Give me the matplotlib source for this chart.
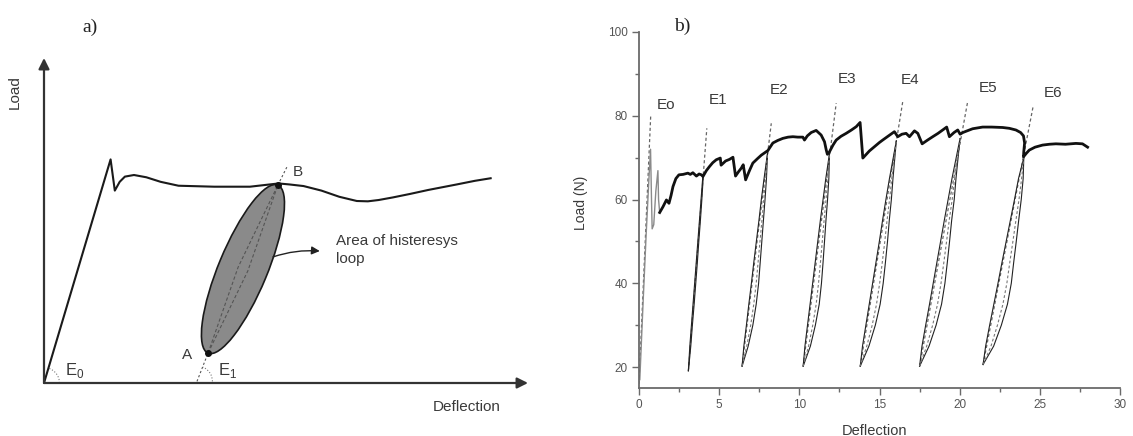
import numpy as np
import matplotlib
matplotlib.use('Agg')
import matplotlib.pyplot as plt
from matplotlib.patches import Ellipse, Arc

plt.rcParams['font.family'] = ['Liberation Sans', 'DejaVu Sans']
plt.rcParams['mathtext.fontset'] = 'custom'
plt.rcParams['mathtext.rm'] = 'Liberation Sans'

# ---------------- panel a (schematic) ----------------
a_curve_x = [0.0, 2.05, 2.18, 2.33, 2.49, 2.77, 3.15, 3.59, 4.14, 5.24, 6.34, 6.78, 7.22,
             7.55, 7.99, 8.54, 9.09, 9.63, 9.97, 10.30, 10.74, 11.28, 11.83, 12.71, 13.26, 13.75]
a_curve_y = [0.0, 6.88, 5.92, 6.19, 6.35, 6.40, 6.33, 6.19, 6.07, 6.04, 6.04, 6.09, 6.14,
             6.11, 6.06, 5.92, 5.73, 5.60, 5.59, 5.63, 5.71, 5.82, 5.94, 6.11, 6.22, 6.30]
point_a = (5.05, 0.92)
point_b = (7.20, 6.09)
loop_minor = 1.5
e1_foot = (4.71, 0.05)
e1_tip = (7.48, 6.65)

# ---------------- panel b (measured) ----------------
init_x = [0.05, 0.25, 0.45, 0.62, 0.72, 0.78, 0.82, 0.92, 1.05, 1.18, 1.22, 1.29]
init_y = [17.0, 35.0, 52.0, 65.0, 72.0, 60.0, 53.0, 54.0, 62.0, 66.9, 60.0, 56.9]

env_x = [1.29, 1.50, 1.71, 1.87, 2.00, 2.12, 2.30, 2.49, 2.75, 3.05, 3.20, 3.36, 3.58, 3.75, 3.89,
         3.99, 4.20, 4.40, 4.60, 4.82, 5.07, 5.12, 5.40, 5.65, 5.86, 6.02, 6.20, 6.38, 6.50, 6.65,
         6.90, 7.10, 7.40, 7.63, 8.04, 8.35, 8.65, 8.97, 9.30, 9.60, 9.90, 10.22, 10.32, 10.50,
         10.74, 11.05, 11.36, 11.57, 11.68, 11.75, 11.88, 12.10, 12.30, 12.60, 12.92, 13.25, 13.55,
         13.79, 13.96, 14.37, 14.99, 15.20, 15.60, 15.93, 16.14, 16.40, 16.66, 16.87, 17.18, 17.39,
         17.66, 18.00, 18.32, 18.65, 18.94, 19.19, 19.36, 19.65, 19.88, 20.03, 20.20, 20.40, 20.81,
         21.43, 22.00, 22.68, 23.10, 23.51, 23.80, 23.98, 24.05, 24.00, 23.98, 24.15, 24.34, 24.70,
         25.17, 25.60, 26.00, 26.60, 27.25, 27.66, 27.98]
env_y = [56.9, 58.3, 59.9, 59.1, 61.0, 63.1, 65.0, 65.9, 66.0, 66.3, 66.0, 66.4, 65.6, 66.1, 65.9,
         65.5, 66.9, 67.9, 68.8, 69.5, 69.9, 68.2, 69.2, 69.6, 70.1, 65.6, 66.6, 67.5, 68.3, 64.7,
         67.0, 68.7, 69.8, 70.6, 71.7, 73.5, 74.1, 74.6, 74.9, 75.0, 74.9, 74.9, 74.2, 75.2,
         76.0, 76.5, 75.4, 73.8, 71.8, 70.8, 71.4, 73.0, 74.2, 75.1, 75.8, 76.6, 77.4,
         78.4, 69.9, 71.6, 73.6, 74.2, 75.3, 76.2, 75.0, 75.6, 75.8, 75.0, 76.4, 75.8,
         73.3, 74.2, 75.0, 75.8, 76.6, 77.3, 75.0, 76.0, 76.6, 75.6, 76.0, 76.3, 76.9,
         77.3, 77.3, 77.2, 77.0, 76.6, 76.0, 75.2, 73.5, 71.5, 70.2, 71.0, 71.8, 72.5,
         73.0, 73.2, 73.3, 73.2, 73.4, 73.3, 72.5]

# unload/reload loops E1..E6
loop_bottom_x = [3.08, 6.43, 10.24, 13.80, 17.50, 21.46]
loop_bottom_y = [19.1, 20.2, 20.2, 20.2, 20.2, 20.6]
loop_top_x = [4.00, 8.02, 11.88, 16.05, 20.02, 24.00]
loop_top_y = [65.5, 71.2, 71.0, 74.0, 74.5, 70.0]
loop_loads = [25, 30, 35, 40, 45, 50, 55, 60, 65]
reload_x = [[3.17, 3.27, 3.37, 3.47, 3.57, 3.67, 3.77, 3.87, 3.97],
            [6.54, 6.70, 6.85, 7.01, 7.16, 7.32, 7.48, 7.63, 7.80],
            [10.35, 10.51, 10.67, 10.83, 10.99, 11.15, 11.31, 11.48, 11.65],
            [13.94, 14.15, 14.36, 14.57, 14.78, 14.99, 15.19, 15.40, 15.62],
            [17.65, 17.88, 18.12, 18.35, 18.58, 18.81, 19.04, 19.28, 19.52],
            [21.62, 21.87, 22.13, 22.39, 22.64, 22.90, 23.16, 23.42, 23.67]]
unload_x = [[3.23, 3.33, 3.44, 3.54, 3.64, 3.73, 3.83, 3.92, 4.00],
            [6.81, 7.10, 7.31, 7.46, 7.56, 7.66, 7.76, 7.86, 7.95],
            [10.69, 11.00, 11.24, 11.38, 11.48, 11.57, 11.66, 11.76, 11.84],
            [14.34, 14.74, 15.04, 15.23, 15.37, 15.50, 15.61, 15.74, 15.84],
            [18.09, 18.53, 18.87, 19.08, 19.23, 19.37, 19.50, 19.66, 19.77],
            [22.12, 22.60, 22.98, 23.22, 23.37, 23.53, 23.68, 23.84, 23.96]]

# modulus lines Eo..E6
e_labels = ['Eo', 'E1', 'E2', 'E3', 'E4', 'E5', 'E6']
e_start_x = [0.00] + loop_bottom_x
e_start_y = [16.0] + loop_bottom_y
e_end_x = [0.73, 4.23, 8.25, 12.30, 16.45, 20.50, 24.58]
e_end_y = [80.0, 77.0, 78.2, 83.0, 83.4, 83.4, 82.2]
e_label_x = [1.66, 4.93, 8.75, 12.99, 16.88, 21.76, 25.84]
e_label_y = [82.6, 83.8, 86.2, 88.8, 88.5, 86.6, 85.4]

TXT = '#3a3a3a'


def draw_a(fig):
    W, H = 1133.0, 436.0
    ax = fig.add_axes([44 / W, (H - 383) / H, 484 / W, 325 / H])
    ax.set_xlim(0, 14.9)
    ax.set_ylim(0, 10)
    ax.axis('off')

    arrow = dict(arrowstyle='-|>', lw=1.6, color='#333333', mutation_scale=16,
                 shrinkA=0, shrinkB=0)
    ax.annotate('', xy=(0, 10), xytext=(0, 0), arrowprops=arrow, annotation_clip=False)
    ax.annotate('', xy=(14.9, 0), xytext=(0, 0), arrowprops=arrow, annotation_clip=False)

    ax.plot(a_curve_x, a_curve_y, color='#1a1a1a', lw=1.5, solid_joinstyle='round')

    # hysteresis loop
    pa = np.array(point_a)
    pb = np.array(point_b)
    d = pb - pa
    length = np.hypot(d[0], d[1])
    ang = np.degrees(np.arctan2(d[1], d[0]))
    ell = Ellipse((pa + pb) / 2, length, loop_minor, angle=ang,
                  facecolor='#8a8a8a', edgecolor='#1a1a1a', lw=1.2, zorder=3)
    ax.add_patch(ell)
    perp = np.array([-d[1], d[0]]) / length
    for off in (-0.16, 0.16):
        mid = (pa + pb) / 2 + perp * off
        ax.plot([pa[0], mid[0], pb[0]], [pa[1], mid[1], pb[1]], ls=(0, (3, 2)),
                color='#555555', lw=0.8, zorder=4)
    ax.plot([pa[0], pb[0]], [pa[1], pb[1]], 'o', color='#111111', ms=4, zorder=5)

    # tangent lines and angle arcs
    ax.plot([e1_foot[0], pa[0]], [e1_foot[1], pa[1]], ls=(0, (2, 2)), color='#555555', lw=0.8)
    ax.plot([pb[0], e1_tip[0]], [pb[1], e1_tip[1]], ls=(0, (2, 2)), color='#555555', lw=0.8)
    ang0 = np.degrees(np.arctan2(a_curve_y[1], a_curve_x[1]))
    ax.add_patch(Arc((0, 0), 0.95, 0.95, theta1=0, theta2=ang0, color='#777777',
                     lw=0.8, ls=':'))
    ax.add_patch(Arc(e1_foot, 0.95, 0.95, theta1=0, theta2=ang, color='#777777',
                     lw=0.8, ls=':'))

    ax.text(0.65, 0.40, r'E$_\mathrm{0}$', fontsize=12, color=TXT, ha='left', va='center')
    ax.text(5.35, 0.40, r'E$_\mathrm{1}$', fontsize=12, color=TXT, ha='left', va='center')
    ax.text(4.40, 0.86, 'A', fontsize=11, color=TXT, ha='center', va='center')
    ax.text(7.82, 6.49, 'B', fontsize=11, color=TXT, ha='center', va='center')

    ax.annotate('', xy=(8.49, 4.06), xytext=(7.05, 3.88),
                arrowprops=dict(arrowstyle='-|>', lw=1.0, color='#222222', mutation_scale=12,
                                shrinkA=0, shrinkB=0, connectionstyle='arc3,rad=-0.1'))
    ax.text(8.98, 4.09, 'Area of histeresys\nloop', fontsize=11, color=TXT, ha='left',
            va='center', linespacing=1.3)

    fig.text(15 / W, 1 - 92 / H, 'Load', rotation=90, fontsize=11, color=TXT,
             ha='center', va='center')
    fig.text(467 / W, 1 - 407 / H, 'Deflection', fontsize=11, color=TXT,
             ha='center', va='center')
    fig.text(90 / W, 1 - 27 / H, 'a)', fontsize=14, color='#222222', ha='center',
             va='center', family='Liberation Serif')


def draw_b(fig):
    W, H = 1133.0, 436.0
    ax = fig.add_axes([639 / W, (H - 388) / H, 481 / W, 356 / H])
    ax.set_xlim(0, 30)
    ax.set_ylim(15, 100)
    for s in ('top', 'right'):
        ax.spines[s].set_visible(False)
    for s in ('left', 'bottom'):
        ax.spines[s].set_color('#6a6a6a')
        ax.spines[s].set_linewidth(1.3)
    ax.set_xticks(np.arange(0, 31, 5))
    ax.set_xticks(np.arange(2.5, 30, 5), minor=True)
    ax.set_yticks([20, 40, 60, 80, 100])
    ax.set_yticks([30, 50, 70, 90], minor=True)
    ax.tick_params(which='major', length=5, width=1.0, color='#6a6a6a', labelsize=8.5,
                   labelcolor='#555555', pad=3)
    ax.tick_params(which='minor', length=3, width=1.0, color='#6a6a6a')

    # modulus lines
    for i in range(len(e_labels)):
        ax.plot([e_start_x[i], e_end_x[i]], [e_start_y[i], e_end_y[i]], ls=(0, (2.5, 2)),
                color='#666666', lw=0.9)
        ax.text(e_label_x[i], e_label_y[i], e_labels[i], fontsize=11, color=TXT,
                ha='center', va='center')

    # loops
    for i in range(len(loop_bottom_x)):
        ys = [loop_bottom_y[i]] + loop_loads + [loop_top_y[i]]
        xl = [loop_bottom_x[i]] + reload_x[i] + [loop_top_x[i]]
        xr = [loop_bottom_x[i]] + unload_x[i] + [loop_top_x[i]]
        ax.plot(xl, ys, color='#222222', lw=0.8)
        ax.plot(xr, ys, color='#222222', lw=0.8)
        if i > 0:
            xm = (np.array(xl) + np.array(xr) * 2) / 3
            ax.plot(xm, ys, ls=(0, (2.5, 2)), color='#777777', lw=0.8)

    ax.plot(init_x, init_y, color='#8a8a8a', lw=1.0)
    ax.plot(env_x, env_y, color='#111111', lw=2.0, solid_joinstyle='round')

    ax.set_ylabel('Load (N)', fontsize=10, color=TXT)
    ax.yaxis.set_label_coords(-0.106, 0.52)
    ax.set_xlabel('Deflection', fontsize=10.5, color=TXT)
    ax.xaxis.set_label_coords(0.489, -0.101)
    fig.text(682 / W, 1 - 26 / H, 'b)', fontsize=14, color='#222222', ha='center',
             va='center', family='Liberation Serif')


def main():
    fig = plt.figure(figsize=(11.33, 4.36), dpi=100)
    draw_a(fig)
    draw_b(fig)
    fig.savefig('out.png', dpi=100)


if __name__ == "__main__":
    main()
